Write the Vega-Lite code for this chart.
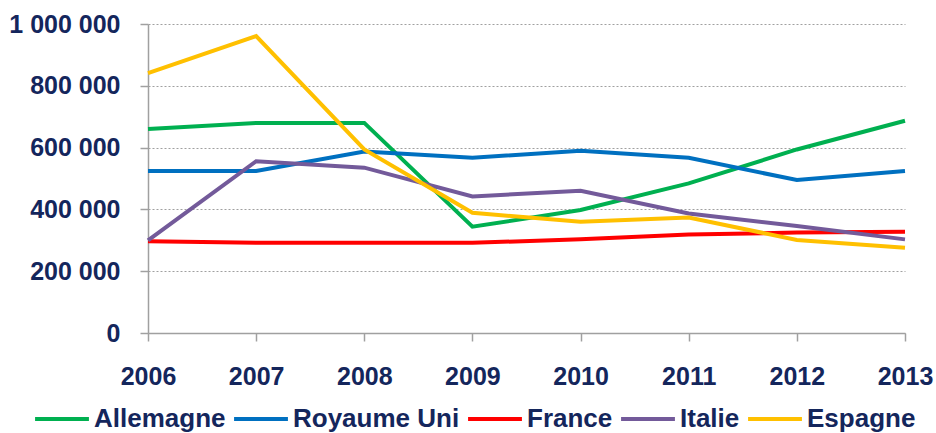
{
  "$schema": "https://vega.github.io/schema/vega-lite/v6.json",
  "width": 757,
  "height": 309,
  "autosize": {"type": "none"},
  "padding": {"left": 148, "top": 24, "right": 31, "bottom": 100},
  "background": "white",
  "config": {"view": {"stroke": null}, "font": "Liberation Sans"},
  "data": {
    "values": [
      {"pays": "Allemagne", "annee": "2006", "valeur": 660000},
      {"pays": "Allemagne", "annee": "2007", "valeur": 680000},
      {"pays": "Allemagne", "annee": "2008", "valeur": 680000},
      {"pays": "Allemagne", "annee": "2009", "valeur": 344000},
      {"pays": "Allemagne", "annee": "2010", "valeur": 398000},
      {"pays": "Allemagne", "annee": "2011", "valeur": 484000},
      {"pays": "Allemagne", "annee": "2012", "valeur": 594000},
      {"pays": "Allemagne", "annee": "2013", "valeur": 687000},
      {"pays": "Royaume Uni", "annee": "2006", "valeur": 524000},
      {"pays": "Royaume Uni", "annee": "2007", "valeur": 524000},
      {"pays": "Royaume Uni", "annee": "2008", "valeur": 587000},
      {"pays": "Royaume Uni", "annee": "2009", "valeur": 567000},
      {"pays": "Royaume Uni", "annee": "2010", "valeur": 590000},
      {"pays": "Royaume Uni", "annee": "2011", "valeur": 567000},
      {"pays": "Royaume Uni", "annee": "2012", "valeur": 495000},
      {"pays": "Royaume Uni", "annee": "2013", "valeur": 524000},
      {"pays": "France", "annee": "2006", "valeur": 297000},
      {"pays": "France", "annee": "2007", "valeur": 292000},
      {"pays": "France", "annee": "2008", "valeur": 292000},
      {"pays": "France", "annee": "2009", "valeur": 292000},
      {"pays": "France", "annee": "2010", "valeur": 303000},
      {"pays": "France", "annee": "2011", "valeur": 319000},
      {"pays": "France", "annee": "2012", "valeur": 325000},
      {"pays": "France", "annee": "2013", "valeur": 328000},
      {"pays": "Italie", "annee": "2006", "valeur": 300000},
      {"pays": "Italie", "annee": "2007", "valeur": 556000},
      {"pays": "Italie", "annee": "2008", "valeur": 535000},
      {"pays": "Italie", "annee": "2009", "valeur": 442000},
      {"pays": "Italie", "annee": "2010", "valeur": 460000},
      {"pays": "Italie", "annee": "2011", "valeur": 387000},
      {"pays": "Italie", "annee": "2012", "valeur": 346000},
      {"pays": "Italie", "annee": "2013", "valeur": 303000},
      {"pays": "Espagne", "annee": "2006", "valeur": 841000},
      {"pays": "Espagne", "annee": "2007", "valeur": 961000},
      {"pays": "Espagne", "annee": "2008", "valeur": 594000},
      {"pays": "Espagne", "annee": "2009", "valeur": 389000},
      {"pays": "Espagne", "annee": "2010", "valeur": 360000},
      {"pays": "Espagne", "annee": "2011", "valeur": 374000},
      {"pays": "Espagne", "annee": "2012", "valeur": 301000},
      {"pays": "Espagne", "annee": "2013", "valeur": 276000}
    ]
  },
  "mark": {"type": "line", "strokeWidth": 4, "strokeJoin": "miter"},
  "encoding": {
    "x": {
      "field": "annee",
      "type": "ordinal",
      "scale": {"type": "point", "padding": 0},
      "axis": {
        "title": null,
        "labelAngle": 0,
        "grid": false,
        "domainColor": "#a0a0a0",
        "domainWidth": 1.5,
        "tickColor": "#a0a0a0",
        "tickWidth": 1.5,
        "tickSize": 8,
        "labelPadding": 23,
        "labelFont": "Liberation Sans",
        "labelFontSize": 25,
        "labelFontWeight": "bold",
        "labelColor": "#14265c"
      }
    },
    "y": {
      "field": "valeur",
      "type": "quantitative",
      "scale": {"domain": [0, 1000000]},
      "axis": {
        "title": null,
        "values": [0, 200000, 400000, 600000, 800000, 1000000],
        "labelExpr": "replace(replace(format(datum.value, ','), ',', ' '), ',', ' ')",
        "grid": true,
        "gridDash": [2, 2],
        "gridColor": "#a0a0a0",
        "gridWidth": 1,
        "domainColor": "#a0a0a0",
        "domainWidth": 1.5,
        "tickColor": "#a0a0a0",
        "tickWidth": 1.5,
        "tickSize": 8,
        "labelPadding": 20,
        "labelFont": "Liberation Sans",
        "labelFontSize": 25,
        "labelFontWeight": "bold",
        "labelColor": "#14265c"
      }
    },
    "color": {
      "field": "pays",
      "type": "nominal",
      "sort": ["Allemagne", "Royaume Uni", "France", "Italie", "Espagne"],
      "scale": {
        "domain": ["Allemagne", "Royaume Uni", "France", "Italie", "Espagne"],
        "range": ["#00b050", "#0070c0", "#ff0000", "#735a9a", "#ffc000"]
      },
      "legend": {
        "title": null,
        "orient": "none",
        "direction": "horizontal",
        "gridAlign": "none",
        "padding": 0,
        "legendX": -115,
        "legendY": 366,
        "symbolType": "stroke",
        "symbolSize": 2900,
        "symbolStrokeWidth": 4,
        "labelOffset": 3,
        "columnPadding": 0,
        "labelFont": "Liberation Sans",
        "labelFontSize": 26,
        "labelFontWeight": "bold",
        "labelColor": "#14265c",
        "labelLimit": 300
      }
    }
  }
}
